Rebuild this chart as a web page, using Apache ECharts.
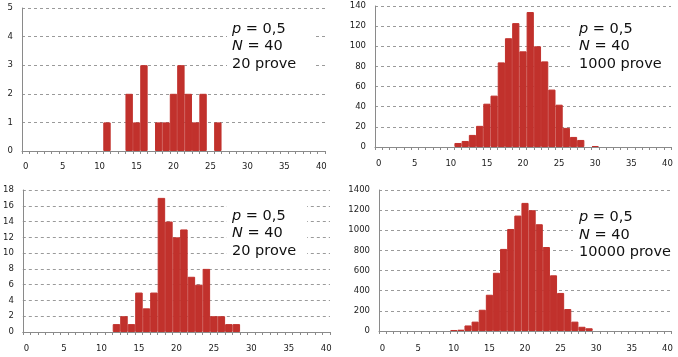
<!DOCTYPE html>
<html>
<head>
<meta charset="utf-8">
<script src="https://cdn.jsdelivr.net/npm/echarts@6/dist/echarts.min.js"></script>
<style>
html,body{margin:0;padding:0;background:#fff;}
#chart{width:678px;height:357px;}
</style>
</head>
<body>
<div id="chart"></div>
<script>
// x categories (number of successes)
const categories = ['0','1','2','3','4','5','6','7','8','9','10','11','12','13','14','15','16','17','18','19','20','21','22','23','24','25','26','27','28','29','30','31','32','33','34','35','36','37','38','39','40'];

// Panel 1: p=0,5 N=40, 20 prove
const counts20a = [0,0,0,0,0,0,0,0,0,0,0, 1,0,0,2,1,3,0,1,1,2,3,2,1,2,0,1, 0,0,0,0,0,0,0,0,0,0,0,0,0,0];
// Panel 2: 1000 prove
const counts1000 = [0,0,0,0,0,0,0,0,0,0,0, 4,6,12,21,43,51,84,108,123,95,134,100,85,57,42,19,10,7,0,1, 0,0,0,0,0,0,0,0,0,0];
// Panel 3: 20 prove (second)
const counts20b = [0,0,0,0,0,0,0,0,0,0,0,0, 1,2,1,5,3,5,17,14,12,13,7,6,8,2,2,1,1, 0,0,0,0,0,0,0,0,0,0,0,0];
// Panel 4: 10000 prove
const counts10000 = [0,0,0,0,0,0,0,0,0,0, 10,13,55,93,211,360,578,815,1013,1146,1272,1199,1060,834,553,378,218,93,42,27, 0,0,0,0,0,0,0,0,0,0,0];

// y-axis ranges
const yMax = [5, 140, 18, 1400];
const yStep = [1, 20, 2, 200];

// annotation texts
const labelP = '0,5';
const labelN = '40';
const labelTrials = ['20 prove', '1000 prove', '20 prove', '10000 prove'];

const seriesData = [counts20a, counts1000, counts20b, counts10000];

const grids = [
  {left: 22, top: 8, width: 303, height: 143},
  {left: 375, top: 6, width: 296, height: 141},
  {left: 22, top: 190, width: 308, height: 142},
  {left: 379, top: 190, width: 292, height: 141}
];
const xLabelMargin = [11, 12, 12, 13];
const textPos = [[232, 20], [579, 20], [232, 207], [579, 208.5]];
const boxes = [[227, 14, 86, 62], [573, 12, 105, 64], [227, 199, 80, 64], [573, 200, 105, 62]];

const FONT = 'DejaVu Sans';
const red = '#c1312c';
const gridColor = '#9a9a9a';
const axisColor = '#8a8a8a';

const chart = echarts.init(document.getElementById('chart'), null, {renderer: 'canvas'});

const option = {
  animation: false,
  backgroundColor: '#fff',
  grid: grids.map(g => Object.assign({containLabel: false}, g)),
  xAxis: grids.map((g, i) => ({
    type: 'category',
    gridIndex: i,
    data: categories,
    boundaryGap: true,
    axisLine: {show: true, lineStyle: {color: axisColor, width: 1}},
    axisTick: {show: true, interval: 0, length: 3, inside: false, lineStyle: {color: axisColor}},
    axisLabel: {interval: 4, fontSize: 8.5, fontFamily: FONT, color: '#1a1a1a', margin: xLabelMargin[i]},
    splitLine: {show: false}
  })),
  yAxis: grids.map((g, i) => ({
    type: 'value',
    gridIndex: i,
    min: 0,
    max: yMax[i],
    interval: yStep[i],
    axisLine: {show: true, lineStyle: {color: axisColor, width: 1}},
    axisTick: {show: false},
    axisLabel: {fontSize: 8.5, fontFamily: FONT, color: '#1a1a1a', margin: 9, formatter: v => String(v)},
    splitLine: {show: true, lineStyle: {color: gridColor, type: [3, 3], width: 1}}
  })),
  series: seriesData.map((d, i) => ({
    type: 'bar',
    xAxisIndex: i,
    yAxisIndex: i,
    // empty categories are left blank
    data: d.map(v => (v === 0 ? '-' : v)),
    barWidth: '100%',
    barGap: '0%',
    barCategoryGap: '0%',
    itemStyle: {color: red, borderColor: red, borderWidth: 1},
    z: 3
  })),
  graphic: boxes.map(b => ({
    type: 'rect',
    shape: {x: b[0], y: b[1], width: b[2], height: b[3]},
    style: {fill: '#fff'},
    z: 1,
    silent: true
  })),
  title: textPos.map((p, i) => ({
    left: p[0],
    top: p[1],
    padding: 0,
    text: '{i|p} = ' + labelP + '\n{i|N} = ' + labelN + '\n' + labelTrials[i],
    textStyle: {
      fontFamily: FONT, fontSize: 14.5, lineHeight: 17.5, color: '#111', fontWeight: 'normal',
      rich: {
        i: {fontFamily: FONT, fontSize: 14.5, lineHeight: 17.5, fontStyle: 'italic', color: '#111'}
      }
    }
  }))
};
chart.setOption(option);
</script>
</body>
</html>
